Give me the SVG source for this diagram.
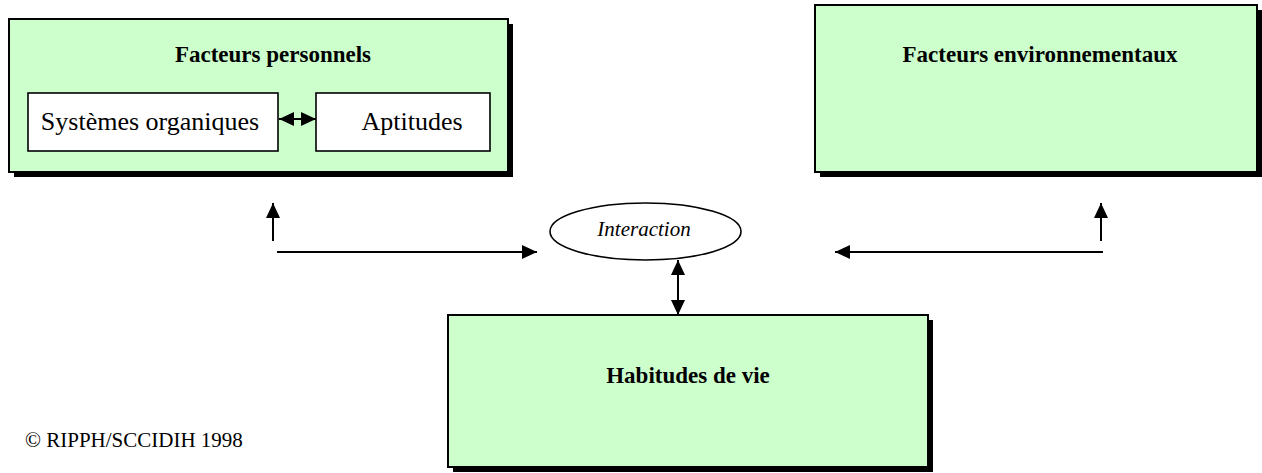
<svg xmlns="http://www.w3.org/2000/svg" width="1262" height="473" viewBox="0 0 1262 473">
<style>
.box{fill:#CCFFCC;stroke:#000;stroke-width:2}
.shadow{fill:#000}
.inner{fill:#fff;stroke:#000;stroke-width:1.6}
.title{font-family:"Liberation Serif",serif;font-weight:bold;font-size:23px;fill:#000;text-anchor:middle}
.lbl{font-family:"Liberation Serif",serif;font-size:26px;fill:#000;text-anchor:middle}
.conn{stroke:#000;stroke-width:2;fill:none}
</style>
<defs>
<marker id="ah" viewBox="0 0 15 14" refX="15" refY="7" markerWidth="15" markerHeight="14" markerUnits="userSpaceOnUse" orient="auto-start-reverse">
<path d="M0,0 L15,7 L0,14 Z" fill="#000"/>
</marker>
</defs>
<g id="facteurs-personnels">
<rect class="shadow" x="14" y="24" width="499" height="153"/>
<rect class="box" x="9" y="19" width="499" height="153"/>
<text class="title" x="273" y="62">Facteurs personnels</text>
</g>
<g id="systemes-organiques">
<rect class="inner" x="28" y="93" width="250" height="58"/>
<text class="lbl" x="150" y="130">Systèmes organiques</text>
</g>
<g id="aptitudes">
<rect class="inner" x="316" y="93" width="174" height="58"/>
<text class="lbl" x="412" y="130">Aptitudes</text>
</g>
<g id="facteurs-environnementaux">
<rect class="shadow" x="820" y="10" width="442" height="167"/>
<rect class="box" x="815" y="5" width="442" height="167"/>
<text class="title" x="1040" y="62">Facteurs environnementaux</text>
</g>
<g id="habitudes-de-vie">
<rect class="shadow" x="453" y="320" width="480" height="152"/>
<rect class="box" x="448" y="315" width="480" height="152"/>
<text class="title" x="688" y="383">Habitudes de vie</text>
</g>
<g id="interaction">
<ellipse cx="645.5" cy="231.5" rx="95.5" ry="28.5" fill="#fff" stroke="#000" stroke-width="1.6"/>
<text x="644" y="236" font-family="Liberation Serif,serif" font-style="italic" font-size="21" text-anchor="middle">Interaction</text>
</g>
<g id="connectors">
<line class="conn" x1="279" y1="119" x2="316" y2="119" marker-start="url(#ah)" marker-end="url(#ah)"/>
<line class="conn" x1="273" y1="241" x2="273" y2="203" marker-end="url(#ah)"/>
<line class="conn" x1="277" y1="252" x2="537" y2="252" marker-end="url(#ah)"/>
<line class="conn" x1="1101" y1="241" x2="1101" y2="203" marker-end="url(#ah)"/>
<line class="conn" x1="1103" y1="252" x2="835" y2="252" marker-end="url(#ah)"/>
<line class="conn" x1="678" y1="260" x2="678" y2="315" marker-start="url(#ah)" marker-end="url(#ah)"/>
</g>
<text x="25" y="447" font-family="Liberation Serif,serif" font-size="21">© RIPPH/SCCIDIH 1998</text>
</svg>
